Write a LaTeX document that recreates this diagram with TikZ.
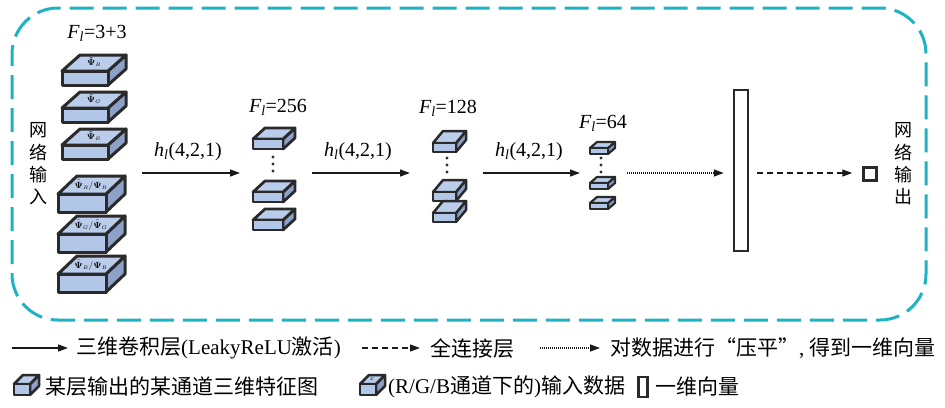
\documentclass[tikz,border=0pt]{standalone}
\usepackage[no-math]{fontspec}
\setmainfont{Liberation Serif}
\newfontfamily\cjk{Noto Sans CJK SC}
\usetikzlibrary{arrows.meta}
\definecolor{topc}{HTML}{BACDEB}
\definecolor{frontc}{HTML}{B2C6E8}
\definecolor{sidec}{HTML}{8DA1C8}
\definecolor{edgec}{HTML}{2A2A2A}
\definecolor{framec}{HTML}{1FB2C2}
\definecolor{arrowc}{HTML}{1A1A1A}
% #1 x front-left, #2 y front-top, #3 w, #4 h, #5 dx, #6 dy, #7 line width
\newcommand\cubebox[7]{%
  \filldraw[fill=sidec,draw=edgec,line width=#7,line join=round]
    (#1+#3,#2) -- ++(#5,-#6) -- ++(0,#4) -- ++(-#5,#6) -- cycle;
  \filldraw[fill=topc,draw=edgec,line width=#7,line join=round]
    (#1,#2) -- ++(#5,-#6) -- ++(#3,0) -- ++(-#5,#6) -- cycle;
  \filldraw[fill=frontc,draw=edgec,line width=#7,line join=round]
    (#1,#2) rectangle ++(#3,#4);
}
\tikzset{
  conv/.style={-{Triangle[length=10pt,width=7pt]},line width=1.4pt,draw=arrowc},
  fcline/.style={conv,dash pattern=on 6pt off 4pt},
  flatline/.style={conv,dash pattern=on 1pt off 1pt},
  lbl/.style={font=\fontsize{20}{22}\selectfont,inner sep=0pt},
  vtxt/.style={font=\cjk\fontsize{18}{22.3}\selectfont,align=center,inner sep=0pt},
  legtxt/.style={font=\fontsize{21}{23}\selectfont,inner sep=0pt,anchor=west},
  psil/.style={font=\fontsize{9}{9}\selectfont,inner sep=0pt},
  dotc/.style={fill=edgec,draw=none,circle,minimum size=3.4pt,inner sep=0pt},
  vecbox/.style={draw=edgec,line width=2.5pt,fill=white,inner sep=0pt},
}
\begin{document}
\begin{tikzpicture}[x=1pt,y=-1pt]
\useasboundingbox (0,0) rectangle (945,407);
% frame
\draw[framec,line width=3pt,rounded corners=46pt,dash pattern=on 24pt off 9pt,dash phase=12pt]
  (12,8) rectangle (926,320);

% input column
\node[lbl] (fin) at (97,33) {{\itshape F}\textsubscript{\itshape l}=3+3};
\node[vtxt] (inlbl) at (38,164) {网\\络\\输\\入};
\cubebox{62}{71}{46}{14}{18}{16}{3pt}
\node[psil] (p1) at (94,62) {$\tilde{\mathbf{\Psi}}_{\scriptscriptstyle R}$};
\cubebox{62}{108}{46}{14}{18}{16}{3pt}
\node[psil] (p2) at (94,99) {$\tilde{\mathbf{\Psi}}_{\scriptscriptstyle G}$};
\cubebox{62}{145}{46}{14}{18}{16}{3pt}
\node[psil] (p3) at (94,136) {$\tilde{\mathbf{\Psi}}_{\scriptscriptstyle B}$};
\cubebox{58}{194}{48}{18}{19}{18}{3pt}
\node[psil] (p4) at (91,185) {$\hat{\mathbf{\Psi}}_{\scriptscriptstyle R}/\mathbf{\Psi}_{\scriptscriptstyle R}$};
\cubebox{58}{234}{48}{18}{19}{18}{3pt}
\node[psil] (p5) at (91,225) {$\hat{\mathbf{\Psi}}_{\scriptscriptstyle G}/\hat{\mathbf{\Psi}}_{\scriptscriptstyle G}$};
\cubebox{58}{274}{48}{18}{19}{18}{3pt}
\node[psil] (p6) at (91,265) {$\hat{\mathbf{\Psi}}_{\scriptscriptstyle B}/\mathbf{\Psi}_{\scriptscriptstyle B}$};

% group 256
\node[lbl] (f256) at (278,107) {{\itshape F}\textsubscript{\itshape l}=256};
\cubebox{253}{139}{30}{10}{12}{11}{2.8pt}
\node[dotc] (d1a) at (273,157) {};
\node[dotc] (d1b) at (273,164) {};
\node[dotc] (d1c) at (273,171) {};
\cubebox{253}{192}{30}{10}{12}{11}{2.8pt}
\cubebox{253}{220}{30}{10}{12}{11}{2.8pt}

% group 128
\node[lbl] (f128) at (448,108) {{\itshape F}\textsubscript{\itshape l}=128};
\cubebox{433}{143}{23}{9}{10}{12}{2.5pt}
\node[dotc] (d2a) at (447,158) {};
\node[dotc] (d2b) at (447,165) {};
\node[dotc] (d2c) at (447,172) {};
\cubebox{433}{192}{23}{9}{10}{12}{2.5pt}
\cubebox{433}{213}{23}{9}{10}{12}{2.5pt}

% group 64
\node[lbl] (f64) at (603,123) {{\itshape F}\textsubscript{\itshape l}=64};
\cubebox{590}{148}{18}{6}{7}{6}{2.2pt}
\node[dotc] (d3a) at (601,158) {};
\node[dotc] (d3b) at (601,165) {};
\node[dotc] (d3c) at (601,172) {};
\cubebox{590}{183}{18}{6}{7}{6}{2.2pt}
\cubebox{590}{203}{18}{6}{7}{6}{2.2pt}

% bar and output
\node[vecbox,minimum width=14pt,minimum height=161pt] (bar) at (741,170.5) {};
\node[vecbox,minimum width=13pt,minimum height=13pt] (outsq) at (870,174) {};
\node[vtxt] (outlbl) at (903,164) {网\\络\\输\\出};

% connectors
\coordinate (c1s) at (142,173); \coordinate (c1e) at (240,173);
\coordinate (c2s) at (312,173); \coordinate (c2e) at (410,173);
\coordinate (c3s) at (483,173); \coordinate (c3e) at (580,173);
\coordinate (c4s) at (627,173);
\draw[conv] (c1s) -- (c1e);
\draw[conv] (c2s) -- (c2e);
\draw[conv] (c3s) -- (c3e);
\node[lbl] (h1) at (188,152) {{\itshape h}\textsubscript{\itshape l}(4,2,1)};
\node[lbl] (h2) at (358,152) {{\itshape h}\textsubscript{\itshape l}(4,2,1)};
\node[lbl] (h3) at (529,152) {{\itshape h}\textsubscript{\itshape l}(4,2,1)};
\draw[flatline,shorten >=9pt] (c4s) -- (bar.west |- c4s);
\draw[fcline,shorten <=8pt,shorten >=10pt] (bar.east |- c4s) -- (outsq.west |- c4s);

% legend row 1
\coordinate (l1s) at (12,348); \coordinate (l1e) at (68,348);
\coordinate (l2s) at (362,348); \coordinate (l2e) at (420,348);
\coordinate (l3s) at (540,348); \coordinate (l3e) at (600,348);
\draw[conv] (l1s) -- (l1e);
\node[legtxt] (t1) at (76,348) {{\cjk 三维卷积层}(LeakyReLU{\cjk 激活})};
\draw[fcline] (l2s) -- (l2e);
\node[legtxt] (t2) at (430,348) {\cjk 全连接层};
\draw[flatline] (l3s) -- (l3e);
\node[legtxt] (t3) at (610,348) {{\cjk 对数据进行“压平”}, {\cjk 得到一维向量}};

% legend row 2
\cubebox{14}{384}{16}{11}{9}{9}{2.5pt}
\node[legtxt] (t4) at (45,387) {\cjk 某层输出的某通道三维特征图};
\cubebox{360}{384}{16}{11}{9}{9}{2.5pt}
\node[psil] (px) at (372,379.5) {$\scriptstyle x$};
\node[legtxt] (t5) at (388,387) {(R/G/B{\cjk 通道下的}){\cjk 输入数据}};
\node[vecbox,minimum width=9pt,minimum height=20pt] (lbar) at (643,387) {};
\node[legtxt] (t6) at (655,387) {\cjk 一维向量};
\end{tikzpicture}
\end{document}
